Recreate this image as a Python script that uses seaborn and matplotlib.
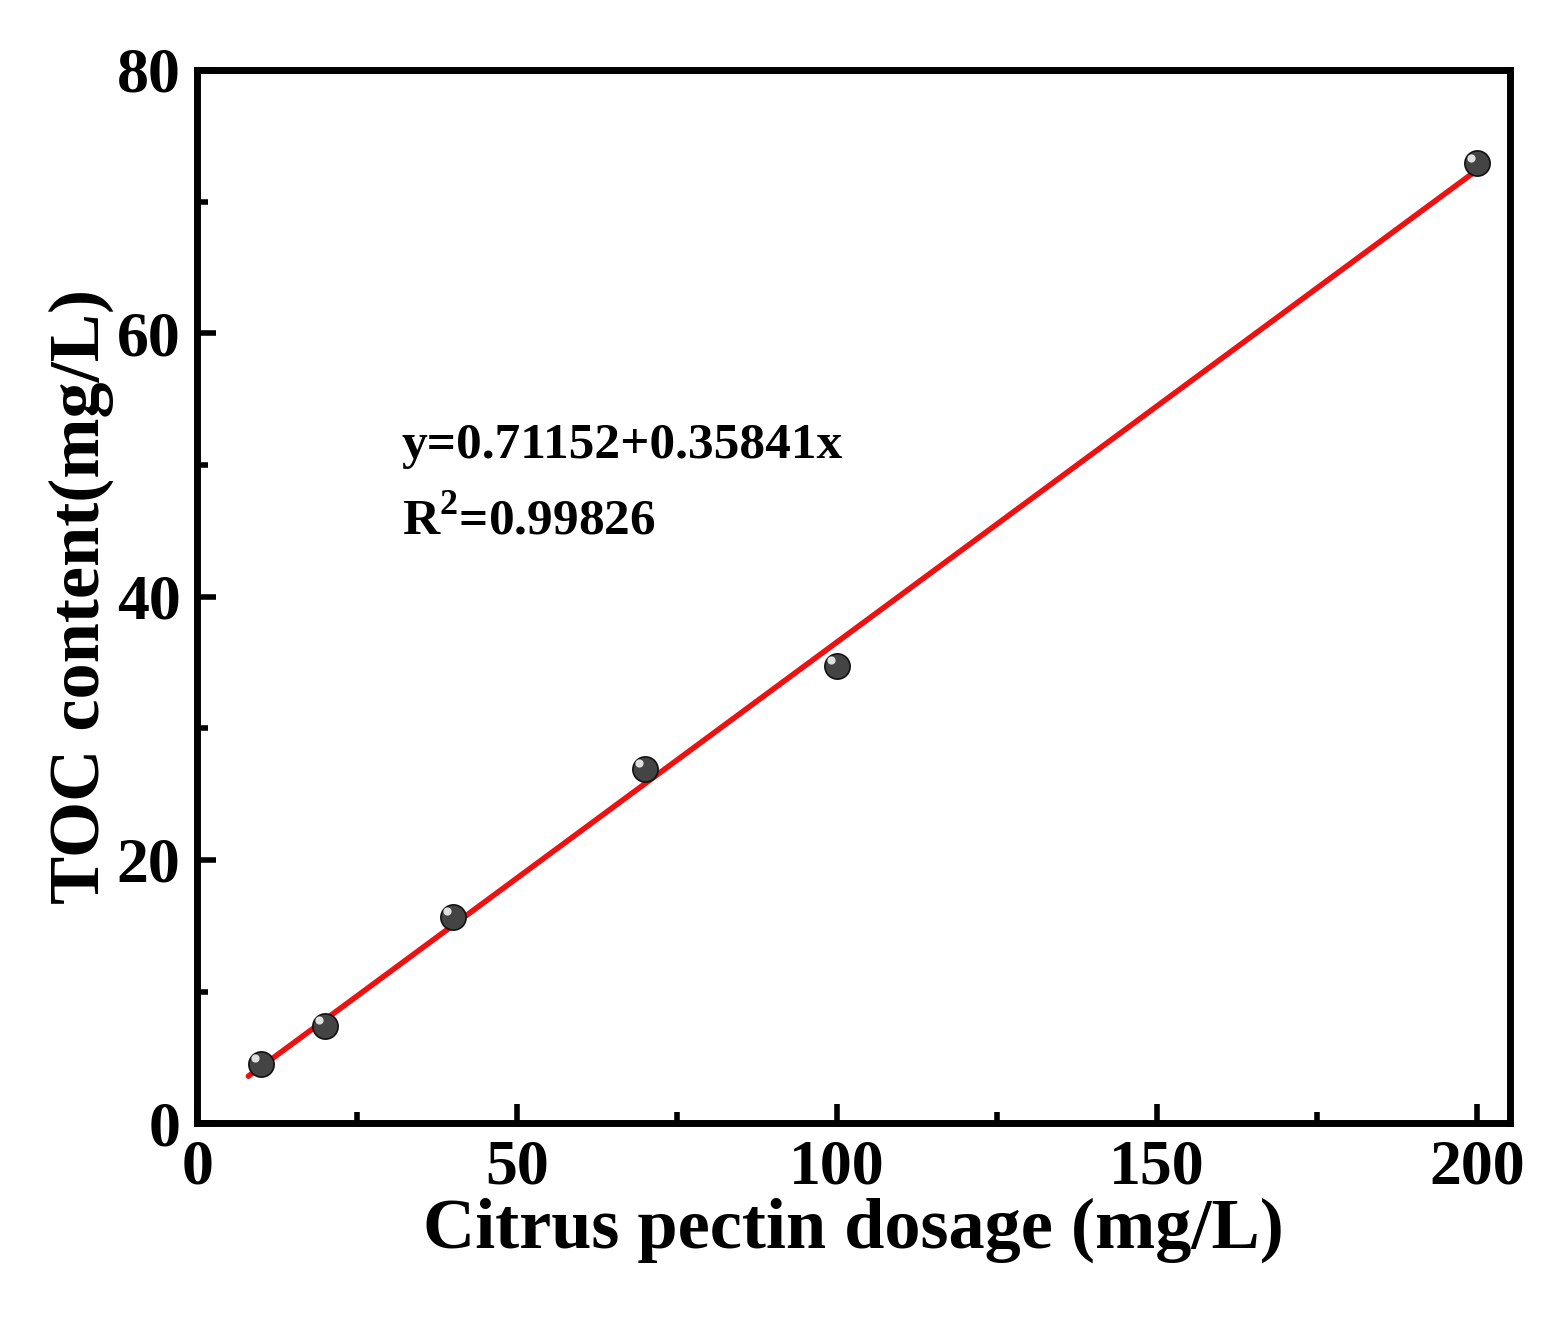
import matplotlib
matplotlib.use('Agg')
import matplotlib.pyplot as plt
import seaborn as sns
import numpy as np
import pandas as pd
from matplotlib.ticker import MultipleLocator

# data
dosage = [10, 20, 40, 70, 100, 200]
toc = [4.5, 7.4, 15.7, 26.9, 34.7, 72.9]
intercept = 0.71152
slope = 0.35841

df = pd.DataFrame({"dosage": dosage, "toc": toc})

sns.set_style("ticks")
plt.rcParams['font.family'] = ['Liberation Serif', 'DejaVu Serif']
plt.rcParams['font.weight'] = 'bold'
plt.rcParams['text.color'] = 'black'
plt.rcParams['axes.labelcolor'] = 'black'
plt.rcParams['xtick.color'] = 'black'
plt.rcParams['ytick.color'] = 'black'
plt.rcParams['mathtext.fontset'] = 'custom'
plt.rcParams['mathtext.bf'] = 'Liberation Serif:bold'

fig = plt.figure(figsize=(15.65, 13.2), dpi=100)
ax = fig.add_axes([0.126, 0.149, 0.839, 0.798])

fit_x = np.array([8, 200])
ax.plot(fit_x, intercept + slope * fit_x, color='#ee1111', lw=4, zorder=2)
sns.scatterplot(data=df, x="dosage", y="toc", ax=ax, s=330, color='#444444',
                edgecolor='#111111', linewidth=1.2, zorder=3, legend=False)
# little highlight to mimic the shaded spheres
ax.scatter(np.array(dosage) - 0.9, np.array(toc) + 0.45, s=35, color='#e0e0e0',
           zorder=4, linewidths=0)

ax.set_xlim(0, 205.2)
ax.set_ylim(0, 80)
ax.xaxis.set_major_locator(MultipleLocator(50))
ax.xaxis.set_minor_locator(MultipleLocator(25))
ax.yaxis.set_major_locator(MultipleLocator(20))
ax.yaxis.set_minor_locator(MultipleLocator(10))
ax.tick_params(which='major', direction='in', length=14, width=4, labelsize=46, pad=12)
ax.tick_params(which='minor', direction='in', length=8, width=4)
for s in ax.spines.values():
    s.set_linewidth(5)
    s.set_color('black')
    s.set_visible(True)

ax.set_xlabel("Citrus pectin dosage (mg/L)", fontsize=52, fontweight='bold', labelpad=0)
ax.set_ylabel("TOC content(mg/L)", fontsize=52, fontweight='bold', labelpad=2)

ax.text(32, 50.5, "y=0.71152+0.35841x", fontsize=37, fontweight='bold')
ax.text(32, 44.7, "R$^\\mathbf{2}$=0.99826", fontsize=37, fontweight='bold')

fig.savefig("out.png", dpi=100)
